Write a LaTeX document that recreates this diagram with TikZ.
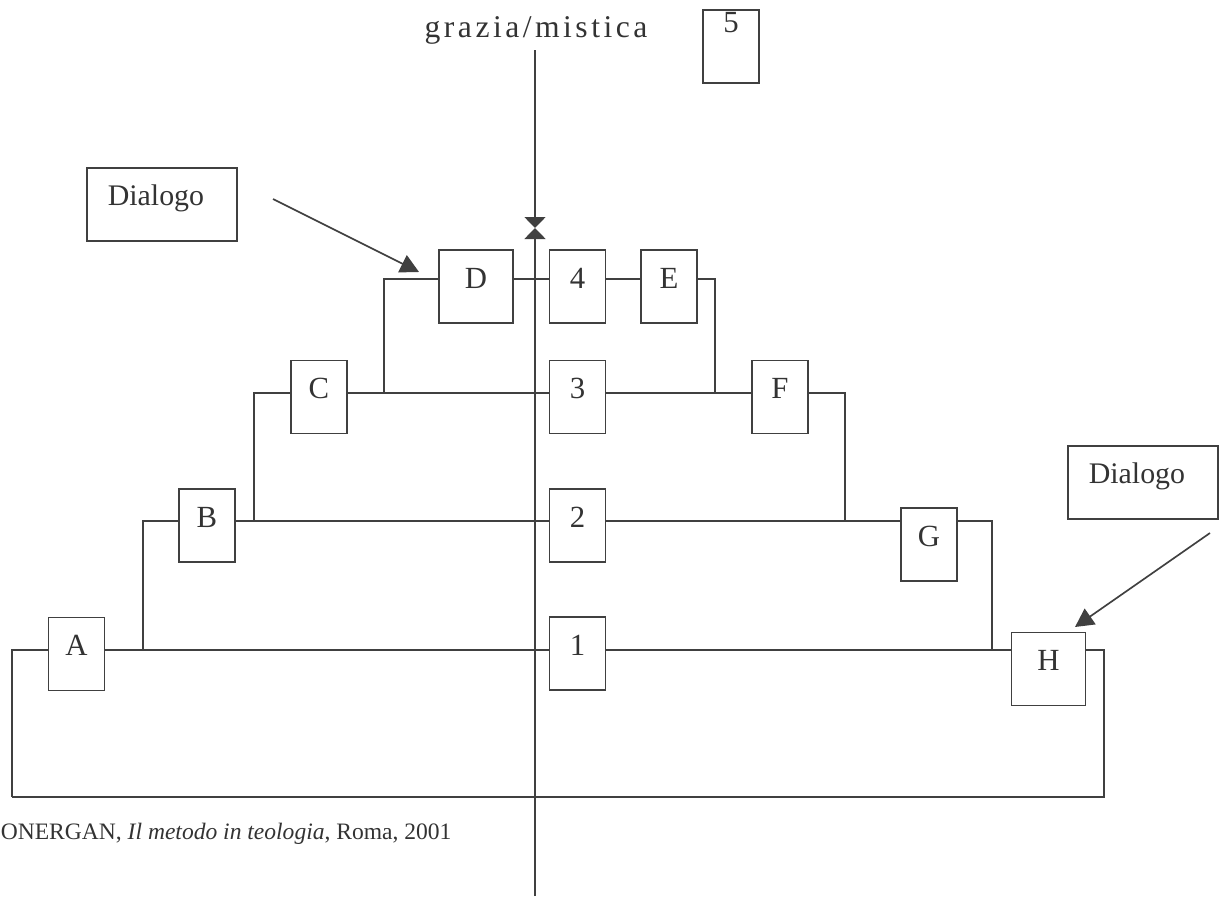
\documentclass[tikz,border=0pt]{standalone}
\usepackage{fontspec}
\setmainfont{Liberation Serif}
\usetikzlibrary{arrows.meta}
\begin{document}
\begin{tikzpicture}[x=0.2mm,y=-0.2mm,line width=0.95pt,draw=black!75,text=black!80,
 box/.style={draw,inner sep=0pt,minimum width=11.2mm,minimum height=14.6mm,
  font=\fontsize{17.5}{20}\selectfont,text height=7.6mm,text depth=7mm},
 wide/.style={box,minimum width=14.8mm},
 note/.style={draw,anchor=north west,inner xsep=4.2mm,inner ysep=0pt,text width=21.6mm,align=left,
  font=\fontsize{17}{20}\selectfont,text height=7.6mm,text depth=7mm},
 bow/.style={-{Triangle[length=2.2mm,width=4.2mm]}},
 >={Triangle[length=3.7mm,width=3.8mm]}]
\useasboundingbox (0,0) rectangle (1220,896);
\node[anchor=base,font=\fontsize{18}{20}\selectfont\addfontfeature{LetterSpace=11}] (title) at (536,37) {grazia/mistica};
\node[box,text height=4.4mm,text depth=10.2mm] (five) at (731,46.5) {5};
\node[note] (dlgL) at (86,167) {Dialogo};
\node[note] (dlgR) at (1067,445) {Dialogo};
\node[wide] (D) at (476,286.5) {D};
\node[box] (four) at (577.5,286.5) {4};
\node[box] (E) at (669,286.5) {E};
\node[box] (C) at (319,397) {C};
\node[box] (three) at (577.5,397) {3};
\node[box] (F) at (780,397) {F};
\node[box] (B) at (207,525.5) {B};
\node[box] (two) at (577.5,525.5) {2};
\node[box] (G) at (929,544.5) {G};
\node[box] (A) at (76.5,654) {A};
\node[box] (one) at (577.5,653.5) {1};
\node[wide] (H) at (1048.5,669) {H};
\node[anchor=base west,inner sep=0pt,font=\fontsize{13.4}{16}\selectfont] (src) at (0,839)
 {ONERGAN, \textit{Il metodo in teologia}, Roma, 2001};
\coordinate (top) at (535,50); \coordinate (bot) at (535,896); \coordinate (mid) at (535,228);
\coordinate (r4) at (535,279); \coordinate (r3) at (535,393);
\coordinate (r2) at (535,521); \coordinate (r1) at (535,650);
\coordinate (j4l) at (384,393); \coordinate (j4r) at (715,393);
\coordinate (j3l) at (254,521); \coordinate (j3r) at (845,521);
\coordinate (j2l) at (143,650); \coordinate (j2r) at (992,650);
\coordinate (j1l) at (12,797); \coordinate (j1r) at (1104,797);
\coordinate (pL) at (273,199); \coordinate (tL) at (419,272);
\coordinate (pR) at (1210,533); \coordinate (tR) at (1075,627);
\draw[bow] (top)--(mid); \draw[bow] (bot)--(mid);
\draw (j4l) |- (D.west|-r4); \draw (D.east|-r4)--(four.west|-r4);
\draw (four.east|-r4)--(E.west|-r4); \draw (E.east|-r4) -| (j4r);
\draw (j3l) |- (C.west|-r3); \draw (C.east|-r3)--(three.west|-r3);
\draw (three.east|-r3)--(F.west|-r3); \draw (F.east|-r3) -| (j3r);
\draw (j2l) |- (B.west|-r2); \draw (B.east|-r2)--(two.west|-r2);
\draw (two.east|-r2)--(G.west|-r2); \draw (G.east|-r2) -| (j2r);
\draw (j1l) |- (A.west|-r1); \draw (A.east|-r1)--(one.west|-r1);
\draw (one.east|-r1)--(H.west|-r1); \draw (H.east|-r1) -| (j1r)--(j1l);
\draw[->] (pL)--(tL); \draw[->] (pR)--(tR);
\end{tikzpicture}
\end{document}
